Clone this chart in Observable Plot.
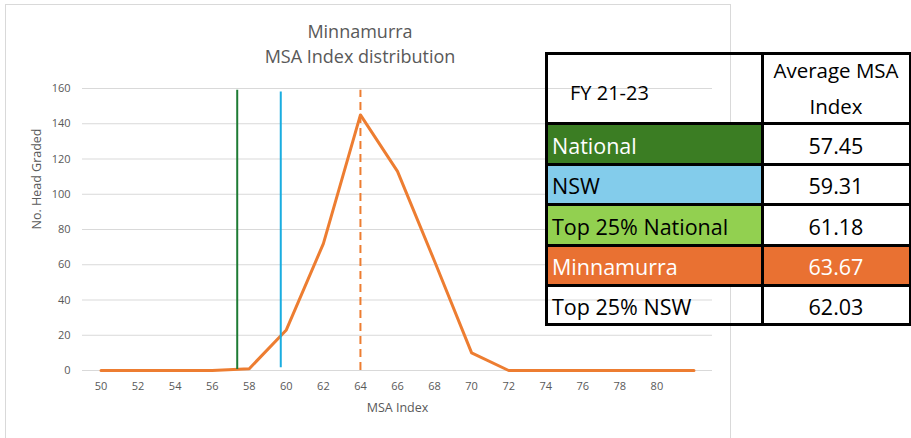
<!DOCTYPE html>
<html>
<head>
<meta charset="utf-8">
<script src="https://cdn.jsdelivr.net/npm/d3@7"></script>
<script src="https://cdn.jsdelivr.net/npm/@observablehq/plot@0.6"></script>
<style>
  body { margin: 0; background: #fff; }
  #wrap { position: relative; width: 911px; height: 438px; overflow: hidden; font-family: "Open Sans", sans-serif; }
  #frame { position: absolute; left: 5px; top: 4px; width: 726px; height: 460px; border: 1px solid #D9D9D9; box-sizing: border-box; }
  #chart { position: absolute; left: 0; top: 0; }
  .title { position: absolute; left: 160px; width: 400px; text-align: center; color: #595959; font-size: 18px; line-height: 24px; }
  .cell { position: absolute; box-sizing: border-box; display: flex; align-items: center; font-size: 21.5px; color: #000; white-space: nowrap; }
  .hline { position: absolute; height: 3px; background: #000; }
  .vline { position: absolute; width: 3px; background: #000; }
</style>
</head>
<body>
<div id="wrap">
  <div id="frame"></div>
  <div id="chart"></div>
</div>
<script>
// ---- data ----
const msaIndex   = [50, 52, 54, 56, 58, 60, 62, 64, 66, 68, 70, 72, 74, 76, 78, 80, 82];
const headGraded = [0, 0, 0, 0, 1, 23, 72, 145, 113, 62, 10, 0, 0, 0, 0, 0, 0];
const xTicks = [50, 52, 54, 56, 58, 60, 62, 64, 66, 68, 70, 72, 74, 76, 78, 80];
const yTicks = [0, 20, 40, 60, 80, 100, 120, 140, 160];

// reference lines as drawn on the chart
const refNames  = ["National", "NSW", "Minnamurra"];
const refX      = [57.35, 59.7, 64.0];
const refBottom = [0.5, 1.5, 0];
const refTop    = [159, 158, 159];

// table
const tableTitle   = "FY 21-23";
const tableHeader  = ["Average MSA", "Index"];
const tableLabels  = ["National", "NSW", "Top 25% National", "Minnamurra", "Top 25% NSW"];
const tableValues  = ["57.45", "59.31", "61.18", "63.67", "62.03"];

const titleLines = ["Minnamurra", "MSA Index distribution"];

// ---- styles ----
const refStyle = {
  "National":   { stroke: "#1E7B34", dash: null },
  "NSW":        { stroke: "#1AADE0", dash: null },
  "Minnamurra": { stroke: "#ED7D31", dash: "8,5" }
};
const rowStyle = {
  "National":         { fill: "#3B7D23", color: "#fff", valFill: "transparent", valColor: "#000" },
  "NSW":              { fill: "#83CCEB", color: "#000", valFill: "transparent", valColor: "#000" },
  "Top 25% National": { fill: "#92D050", color: "#000", valFill: "transparent", valColor: "#000" },
  "Minnamurra":       { fill: "#E97132", color: "#fff", valFill: "#E97132", valColor: "#fff" },
  "Top 25% NSW":      { fill: "transparent", color: "#000", valFill: "transparent", valColor: "#000" }
};

const dist = msaIndex.map((x, i) => ({x, y: headGraded[i]}));
const refs = refNames.map((name, i) => ({name, x: refX[i], y1: refBottom[i], y2: refTop[i]}));

const gray = "#595959";
const font = "Open Sans, sans-serif";

const chart = Plot.plot({
  width: 911,
  height: 438,
  marginLeft: 82,
  marginRight: 199,
  marginTop: 88,
  marginBottom: 68,
  style: { fontFamily: font, background: "transparent", overflow: "visible" },
  x: { domain: [49, 83] },
  y: { domain: [0, 160] },
  marks: [
    Plot.ruleY(yTicks, { stroke: "#D9D9D9", strokeWidth: 1.2 }),
    Plot.axisX(xTicks, { tickSize: 0, tickPadding: 12, label: null, fill: gray, fontSize: 11 }),
    Plot.axisY(yTicks, { tickSize: 0, tickPadding: 12, label: null, fill: gray, fontSize: 11 }),
    Plot.text(["MSA Index"], { frameAnchor: "bottom", dy: 41, fill: gray, fontSize: 12.5 }),
    Plot.text(["No. Head Graded"], { frameAnchor: "left", dx: -46, rotate: -90, fill: gray, fontSize: 12.5 }),
    Plot.line(dist, { x: "x", y: "y", stroke: "#ED7D31", strokeWidth: 3, strokeLinejoin: "round", strokeLinecap: "round" }),
    ...refNames.map(n => Plot.ruleX(refs.filter(d => d.name === n), {
      x: "x", y1: "y1", y2: "y2",
      stroke: refStyle[n].stroke, strokeWidth: 2,
      strokeDasharray: refStyle[n].dash
    }))
  ]
});
document.getElementById("chart").appendChild(chart);

const wrap = document.getElementById("wrap");

// title
titleLines.forEach((t, i) => {
  const d = document.createElement("div");
  d.className = "title";
  d.style.top = (19 + i * 25) + "px";
  d.textContent = t;
  wrap.appendChild(d);
});

// table
const tL = 546, tM = 762, tR = 910;
const rowBounds = [53, 123, 164, 204, 245, 285, 324];

function addCell(left, top, width, height, text, fill, color, center, padLeft, padTop) {
  const c = document.createElement("div");
  c.className = "cell";
  Object.assign(c.style, {
    left: left + "px", top: top + "px", width: width + "px", height: height + "px",
    background: fill, color: color,
    justifyContent: center ? "center" : "flex-start",
    paddingLeft: (padLeft || 0) + "px", paddingTop: (padTop || 0) + "px"
  });
  c.textContent = text;
  wrap.appendChild(c);
  return c;
}

// header
const fc = addCell(tL, rowBounds[0], tM - tL, rowBounds[1] - rowBounds[0], tableTitle, "transparent", "#000", false, 24, 8);
fc.style.fontSize = "20px";
const hc = addCell(tM, rowBounds[0], tR - tM, rowBounds[1] - rowBounds[0], "", "transparent", "#000", true, 0, 0);
hc.style.flexDirection = "column";
hc.style.lineHeight = "36px";
hc.style.fontSize = "20.5px";
tableHeader.forEach(t => { const s = document.createElement("div"); s.textContent = t; hc.appendChild(s); });

tableLabels.forEach((lab, i) => {
  const top = rowBounds[i + 1], h = rowBounds[i + 2] - top;
  const st = rowStyle[lab];
  addCell(tL, top, tM - tL, h, lab, st.fill, st.color, false, 6, 3);
  addCell(tM, top, tR - tM, h, tableValues[i], st.valFill, st.valColor, true, 0, 3);
});

rowBounds.forEach(y => {
  const l = document.createElement("div");
  l.className = "hline";
  Object.assign(l.style, { left: (tL - 1.5) + "px", top: (y - 1.5) + "px", width: (tR - tL + 3) + "px" });
  wrap.appendChild(l);
});
[tL, tM, tR].forEach(x => {
  const l = document.createElement("div");
  l.className = "vline";
  Object.assign(l.style, { left: (x - 1.5) + "px", top: (rowBounds[0] - 1.5) + "px", height: (rowBounds[rowBounds.length - 1] - rowBounds[0] + 3) + "px" });
  wrap.appendChild(l);
});
</script>
</body>
</html>
